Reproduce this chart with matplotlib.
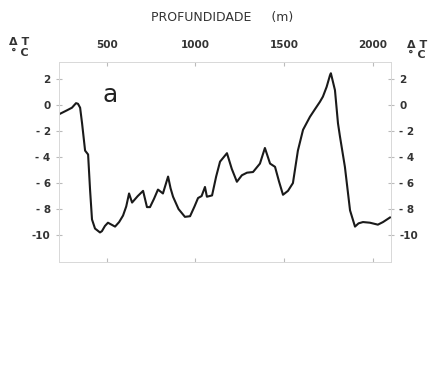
import matplotlib
matplotlib.use('Agg')
import matplotlib.pyplot as plt
from matplotlib.ticker import FuncFormatter

# perfil de temperatura (profundidade em m, delta T em graus C)
profundidade = [232, 276, 304, 327, 338, 350, 361, 378, 395, 406, 417, 434, 462,
                473, 490, 507, 527, 547, 570, 592, 610, 626, 643, 675, 705, 727,
                744, 767, 789, 817, 846, 860, 874, 905, 941, 970, 995, 1015,
                1035, 1054, 1065, 1094, 1117, 1139, 1178, 1205, 1234, 1262,
                1291, 1325, 1364, 1392, 1421, 1449, 1472, 1494, 1522, 1550,
                1578, 1607, 1646, 1675, 1702, 1719, 1740, 1759, 1764, 1787,
                1804, 1815, 1843, 1872, 1900, 1920, 1945, 1984, 2029, 2058, 2097]
delta_t = [-0.7, -0.4, -0.2, 0.15, 0.1, -0.2, -1.4, -3.5, -3.8, -6.5, -8.8, -9.5,
           -9.8, -9.7, -9.3, -9.05, -9.2, -9.35, -9.0, -8.5, -7.8, -6.8, -7.5,
           -7.0, -6.6, -7.85, -7.85, -7.2, -6.5, -6.8, -5.5, -6.4, -7.05, -8.0,
           -8.6, -8.55, -7.8, -7.15, -7.0, -6.3, -7.05, -6.95, -5.5, -4.35,
           -3.7, -4.9, -5.9, -5.4, -5.2, -5.15, -4.5, -3.3, -4.5, -4.75, -5.9,
           -6.9, -6.6, -6.0, -3.5, -1.9, -0.9, -0.3, 0.25, 0.65, 1.4, 2.3,
           2.45, 1.15, -1.4, -2.4, -4.75, -8.1, -9.35, -9.1, -9.0, -9.05,
           -9.2, -9.0, -8.65]

xticks = [500, 1000, 1500, 2000]
yticks = [2, 0, -2, -4, -6, -8, -10]

fig = plt.figure(figsize=(4.32, 3.9), dpi=100)
ax = fig.add_axes([0.1366, 0.328, 0.7685, 0.5128])

ax.plot(profundidade, delta_t, color='#1a1a1a', linewidth=1.5)

ax.set_xlim(231, 2103)
ax.set_ylim(-12.08, 3.31)

for s in ax.spines.values():
    s.set_color('#d8d8d8')
    s.set_linewidth(0.7)

cinza = '#333333'
ax.set_xticks(xticks)
ax.xaxis.set_ticks_position('both')
ax.xaxis.set_label_position('top')
ax.tick_params(axis='x', which='both', top=True, bottom=True, labeltop=True,
               labelbottom=False, direction='in', length=3, color='#bbbbbb',
               labelsize=7.5, labelcolor=cinza, pad=9)

def fmt(v, pos):
    v = int(v)
    if v == -10:
        return '-10'
    if v < 0:
        return '- %d' % (-v)
    return '%d' % v

ax.set_yticks(yticks)
ax.yaxis.set_major_formatter(FuncFormatter(fmt))
ax.tick_params(axis='y', which='both', left=True, right=True, labelleft=True,
               labelright=True, direction='inout', length=4, color='#bbbbbb',
               labelsize=7.5, labelcolor=cinza, pad=4)
for t in ax.get_xticklabels() + ax.get_yticklabels():
    t.set_fontweight('bold')

ax.text(519, 0.77, 'a', fontsize=18, color='#222222', ha='center', va='center')

fig.text(0.514, 0.954, 'PROFUNDIDADE     (m)', ha='center', va='center',
         fontsize=9, color=cinza)
fig.text(0.045, 0.878, 'Δ T\n° C', ha='center', va='center', fontsize=8,
         color=cinza, fontweight='bold', linespacing=1.1)
fig.text(0.965, 0.872, 'Δ T\n° C', ha='center', va='center', fontsize=8,
         color=cinza, fontweight='bold', linespacing=1.1)

plt.savefig('out.png', dpi=100)
